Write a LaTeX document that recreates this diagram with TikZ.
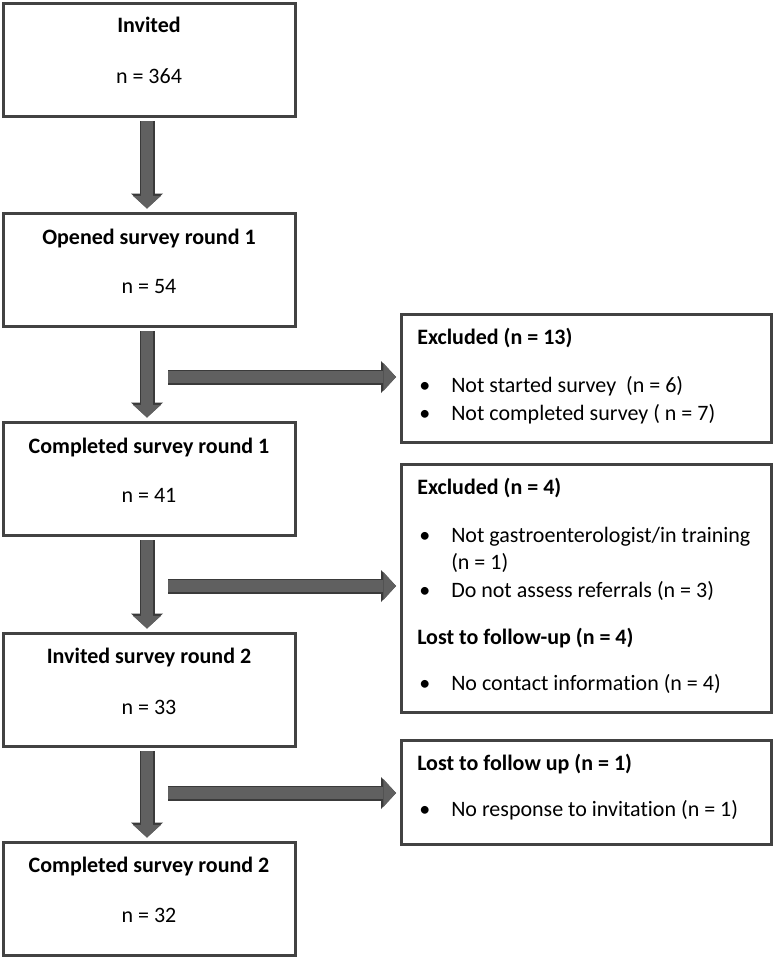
\documentclass[tikz,border=0pt]{standalone}
\usepackage{fontspec}
\setmainfont{Carlito}[Ligatures=NoCommon]
\usetikzlibrary{arrows.meta}
\definecolor{boxline}{RGB}{66,66,66}
\definecolor{arrowfill}{RGB}{96,96,96}
\definecolor{arrowline}{RGB}{58,58,58}
\newcommand{\bul}{\makebox[24pt][l]{\textbullet}}
\tikzset{
	leftbox/.style={draw=boxline, line width=2.25pt, inner sep=0pt, minimum width=219pt, minimum height=84.75pt},
	rightbox/.style={draw=boxline, line width=2.25pt, inner sep=0pt, minimum width=277.5pt},
	txt/.style={inner sep=0pt, font=\fontsize{16.5}{21}\selectfont},
	bold/.style={txt, font=\fontsize{16.5}{21}\selectfont\bfseries},
	fatarrow/.style={draw=arrowfill, line width=8.5pt, -{Triangle[width=21pt,length=9.5pt,line width=0pt]},
		preaction={draw=arrowline, line width=11.25pt, -{Triangle[width=24pt,length=11.25pt,line width=0pt]}}}
}
\begin{document}
\begin{tikzpicture}[x=0.75pt, y=-0.75pt]
	\useasboundingbox (0,0) rectangle (774,958);
	% boxes on the left
	\node[leftbox] (inv) at (149,59.5) {};
	\node[leftbox] (open) at (149,270) {};
	\node[leftbox] (comp1) at (149,479) {};
	\node[leftbox] (inv2) at (149,690) {};
	\node[leftbox] (comp2) at (149,899) {};
	\node[bold, anchor=base] (invt) at (149,32) {Invited};
	\node[txt, anchor=base] (invn) at (149,83) {n = 364};
	\node[bold, anchor=base] (opent) at (149,244) {Opened survey round 1};
	\node[txt, anchor=base] (openn) at (149,293) {n = 54};
	\node[bold, anchor=base] (comp1t) at (149,453) {Completed survey round 1};
	\node[txt, anchor=base] (comp1n) at (149,502) {n = 41};
	\node[bold, anchor=base] (inv2t) at (149,663) {Invited survey round 2};
	\node[txt, anchor=base] (inv2n) at (149,714) {n = 33};
	\node[bold, anchor=base] (comp2t) at (149,872) {Completed survey round 2};
	\node[txt, anchor=base] (comp2n) at (149,922) {n = 32};
	% boxes on the right
	\node[rightbox, minimum height=96pt] (excl1) at (586,378) {};
	\node[rightbox, minimum height=186pt] (excl2) at (586,588) {};
	\node[rightbox, minimum height=78pt] (lost) at (586,792) {};
	\node[bold, anchor=base west] (excl1h) at (417,344) {Excluded (n = 13)};
	\node[txt, anchor=base west] (excl1a) at (419,392) {\bul Not started survey\ \ (n = 6)};
	\node[txt, anchor=base west] (excl1b) at (419,420) {\bul Not completed survey ( n = 7)};
	\node[bold, anchor=base west] (excl2h) at (417,494) {Excluded (n = 4)};
	\node[txt, anchor=base west] (excl2a) at (419,542) {\bul Not gastroenterologist/in training};
	\node[txt, anchor=base west] (excl2aa) at (451,569) {(n = 1)};
	\node[txt, anchor=base west] (excl2b) at (419,597) {\bul Do not assess referrals (n = 3)};
	\node[bold, anchor=base west] (lost2h) at (417,644) {Lost to follow-up (n = 4)};
	\node[txt, anchor=base west] (lost2a) at (419,690) {\bul No contact information (n = 4)};
	\node[bold, anchor=base west] (losth) at (417,770) {Lost to follow up (n = 1)};
	\node[txt, anchor=base west] (losta) at (419,816) {\bul No response to invitation (n = 1)};
	% arrows
	\coordinate (h1) at (168,377);
	\coordinate (h2) at (168,586);
	\coordinate (h3) at (168,793);
	\draw[fatarrow, shorten <=2.6pt, shorten >=2.6pt] ([xshift=-1.5pt]inv.south) -- ([xshift=-1.5pt]open.north);
	\draw[fatarrow, shorten <=2.6pt, shorten >=2.6pt] ([xshift=-1.5pt]open.south) -- ([xshift=-1.5pt]comp1.north);
	\draw[fatarrow, shorten <=2.6pt, shorten >=2.6pt] ([xshift=-1.5pt]comp1.south) -- ([xshift=-1.5pt]inv2.north);
	\draw[fatarrow, shorten <=2.6pt, shorten >=2.6pt] ([xshift=-1.5pt]inv2.south) -- ([xshift=-1.5pt]comp2.north);
	\draw[fatarrow, shorten >=2.6pt] (h1) -- (h1 -| excl1.west);
	\draw[fatarrow, shorten >=2.6pt] (h2) -- (h2 -| excl2.west);
	\draw[fatarrow, shorten >=2.6pt] (h3) -- (h3 -| lost.west);
\end{tikzpicture}
\end{document}
